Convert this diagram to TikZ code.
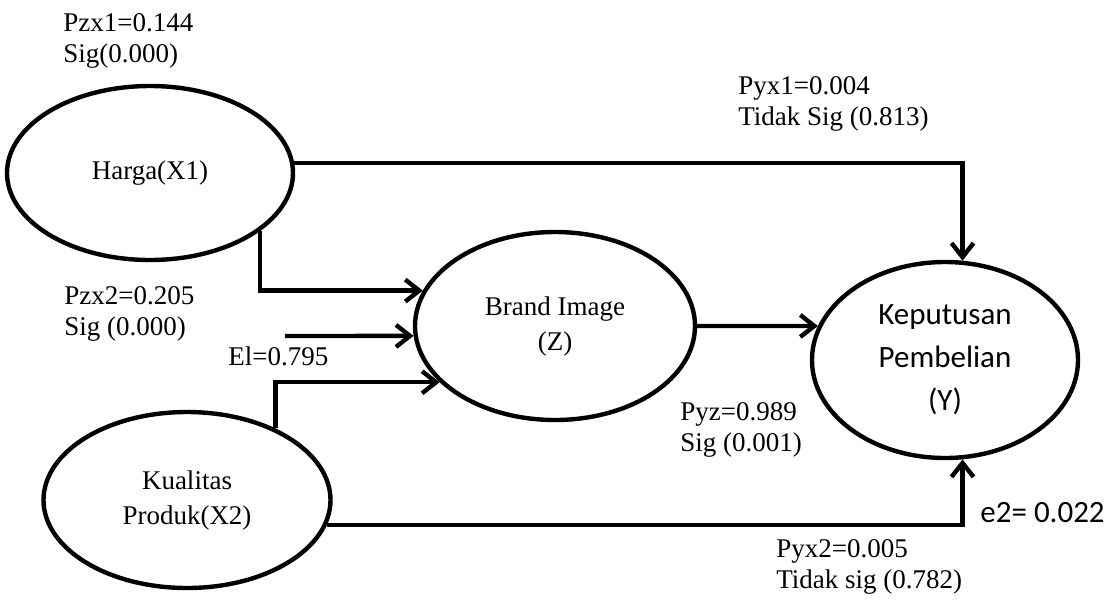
\documentclass[tikz,border=0pt]{standalone}
\usepackage{fontspec}
\setmainfont{Liberation Serif}
\newfontfamily\calib{Carlito}
\usepackage{tikz}
\usetikzlibrary{positioning, arrows.meta, shapes.geometric}

\begin{document}
\begin{tikzpicture}[
  x=0.5pt, y=-0.5pt,
  lat/.style={ellipse, draw=black, line width=2.2pt, align=center, inner sep=0pt,
              font=\fontsize{13.5}{17.5}\selectfont},
  latk/.style={lat, font=\calib\fontsize{15.5}{21.5}\selectfont},
  pth/.style={-{Straight Barb[length=7pt, width=11pt]}, line width=2.2pt},
  lab/.style={anchor=west, align=left, inner sep=0pt,
              font=\fontsize{13.5}{15.5}\selectfont},
  labk/.style={lab, font=\calib\fontsize{15.5}{18}\selectfont}]
  \useasboundingbox (0,0) rectangle (1109,607);
  \node[lat, minimum width=143pt, minimum height=87pt] (harga) at (150,173) {Harga(X1)};
  \node[lat, minimum width=140pt, minimum height=94pt] (brand) at (555,326) {Brand Image\\(Z)};
  \node[latk, minimum width=133pt, minimum height=98pt] (kep) at (945,360) {Keputusan\\Pembelian\\(Y)};
  \node[lat, minimum width=143.5pt, minimum height=88pt] (kual) at (187,500) {Kualitas\\Produk(X2)};
  \coordinate (e1) at (285,336);
  \node[lab] (pzx1) at (63,41)   {Pzx1=0.144\\Sig(0.000)};
  \node[lab] (pyx1) at (738,104) {Pyx1=0.004\\Tidak Sig (0.813)};
  \node[lab] (pzx2) at (64,314)  {Pzx2=0.205\\Sig (0.000)};
  \node[lab] (el)   at (228,356) {El=0.795};
  \node[lab] (pyz)  at (680,430) {Pyz=0.989\\Sig (0.001)};
  \node[labk] (e2)  at (980,513) {e2= 0.022};
  \node[lab] (pyx2) at (776,567) {Pyx2=0.005\\Tidak sig (0.782)};
  \draw[pth] (harga.4) -| (kep.80);
  \draw[pth] (harga.-28) |- (brand.165);
  \draw[pth] (e1) -- (brand.184);
  \draw[pth] (kual.39) |- (brand.206);
  \draw[pth] (kual.-10) -| (kep.-80);
  \draw[pth] (brand.east) -- (kep.165);
\end{tikzpicture}
\end{document}
